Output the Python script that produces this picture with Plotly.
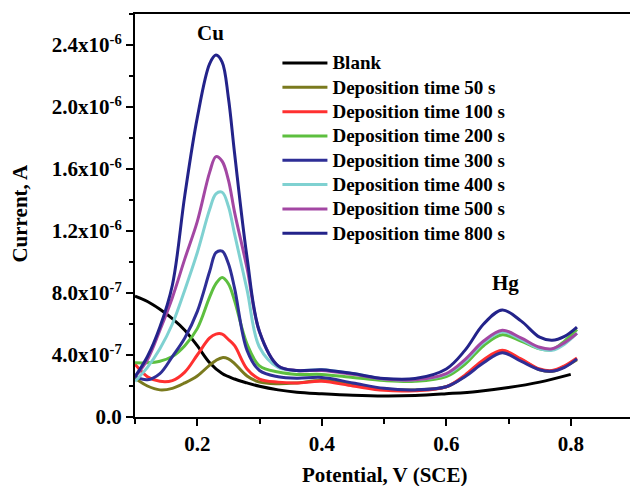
import plotly.graph_objects as go

# Potential grid (V vs SCE) for deposition-time curves
V = [0.10, 0.12, 0.14, 0.16, 0.18, 0.20, 0.22, 0.23, 0.24, 0.25, 0.26, 0.28, 0.30,
     0.33, 0.36, 0.40, 0.45, 0.50, 0.55, 0.60, 0.63, 0.66, 0.69, 0.72, 0.75, 0.77, 0.79, 0.81]

# Currents in units of 1e-7 A
dep_50 = [2.5, 2.0, 1.75, 1.85, 2.2, 2.65, 3.35, 3.65, 3.83, 3.75, 3.45, 2.65, 2.25,
          2.15, 2.2, 2.35, 2.1, 1.8, 1.75, 1.95, 2.65, 3.6, 4.2, 3.7, 3.05, 2.95, 3.25, 3.7]
dep_100 = [3.4, 2.6, 2.3, 2.35, 2.9, 4.0, 5.1, 5.35, 5.35, 5.0, 4.6, 3.1, 2.45,
           2.25, 2.2, 2.3, 2.0, 1.72, 1.7, 1.95, 2.7, 3.7, 4.3, 3.75, 3.1, 3.0, 3.3, 3.8]
dep_200 = [3.5, 3.5, 3.6, 3.9, 4.6, 5.7, 7.75, 8.6, 9.0, 8.6, 7.5, 4.7, 3.3,
           2.9, 2.75, 2.75, 2.55, 2.35, 2.3, 2.6, 3.4, 4.6, 5.3, 4.9, 4.4, 4.35, 4.9, 5.65]
dep_300 = [2.6, 2.4, 2.8, 3.9, 5.1, 6.8, 9.4, 10.6, 10.7, 9.9, 8.3, 4.3, 3.0,
           2.6, 2.5, 2.55, 2.2, 1.85, 1.75, 1.95, 2.6, 3.5, 4.15, 3.6, 3.05, 2.95, 3.2, 3.75]
dep_400 = [2.3, 3.2, 4.4, 6.0, 8.2, 10.6, 13.4, 14.4, 14.5, 13.6, 11.8, 8.2, 4.5,
           3.2, 3.0, 3.05, 2.8, 2.45, 2.4, 2.75, 3.6, 4.8, 5.5, 5.0, 4.4, 4.3, 4.7, 5.4]
dep_500 = [2.6, 3.7, 5.6, 7.7, 10.2, 12.6, 15.8, 16.8, 16.5, 15.3, 13.2, 9.6, 5.5,
           3.3, 3.0, 3.0, 2.75, 2.45, 2.4, 2.8, 3.7, 4.9, 5.6, 5.1, 4.5, 4.4, 4.8, 5.4]
dep_800 = [2.6, 3.9, 5.8, 8.5, 14.3, 19.3, 22.8, 23.35, 22.9, 20.6, 17.0, 10.3, 5.5,
           3.3, 3.0, 3.05, 2.8, 2.48, 2.48, 3.1, 4.3, 6.0, 6.9, 6.2, 5.15, 4.95, 5.2, 5.8]

V_blank = [0.10, 0.12, 0.14, 0.16, 0.18, 0.20, 0.22, 0.24, 0.26, 0.28, 0.30, 0.33,
           0.36, 0.40, 0.45, 0.50, 0.55, 0.60, 0.65, 0.70, 0.75, 0.80]
blank = [7.8, 7.45, 6.95, 6.35, 5.6, 4.6, 3.5, 2.8, 2.45, 2.2, 1.98, 1.75,
         1.6, 1.5, 1.4, 1.35, 1.38, 1.5, 1.65, 1.9, 2.25, 2.75]

names = ["Blank", "Deposition time 50 s", "Deposition time 100 s", "Deposition time 200 s",
         "Deposition time 300 s", "Deposition time 400 s", "Deposition time 500 s",
         "Deposition time 800 s"]
colors = ["#000000", "#7a7a1e", "#ff3030", "#5dbf3f", "#2e2e96", "#7fd1d1", "#a347a3", "#23238a"]

y_tickvals = [0, 4e-7, 8e-7, 1.2e-6, 1.6e-6, 2.0e-6, 2.4e-6]
y_ticktext = ["0.0", "4.0x10<sup>-7</sup>", "8.0x10<sup>-7</sup>", "1.2x10<sup>-6</sup>",
              "1.6x10<sup>-6</sup>", "2.0x10<sup>-6</sup>", "2.4x10<sup>-6</sup>"]
x_tickvals = [0.2, 0.4, 0.6, 0.8]
x_ticktext = ["0.2", "0.4", "0.6", "0.8"]

series = [(V_blank, blank), (V, dep_50), (V, dep_100), (V, dep_200), (V, dep_300),
          (V, dep_400), (V, dep_500), (V, dep_800)]

FONT = "Liberation Serif"
fig = go.Figure()
for (xs, ys), name, col in zip(series, names, colors):
    fig.add_trace(go.Scatter(
        x=xs, y=[v * 1e-7 for v in ys], mode="lines",
        name='<span style="font-size:19px">' + name + '</span>',
        line=dict(color=col, width=3, shape="spline", smoothing=1.0),
    ))

axis_common = dict(
    showline=True, linecolor="black", linewidth=2, mirror=True,
    ticks="outside", ticklen=7, tickwidth=2, tickcolor="black",
    showgrid=False, zeroline=False,
    tickfont=dict(family=FONT, size=21, color="black", weight="bold"),
)

fig.update_layout(
    width=628, height=478,
    margin=dict(l=127, r=1, t=6, b=69),
    paper_bgcolor="white", plot_bgcolor="white",
    showlegend=True,
    legend=dict(
        x=0.286, y=0.921, xanchor="left", yanchor="top",
        bgcolor="rgba(0,0,0,0)", borderwidth=0,
        font=dict(family=FONT, size=16.4, color="black", weight="bold"),
        itemwidth=45, tracegroupgap=0,
    ),
    xaxis=dict(range=[0.1, 0.9], tickmode="array", tickvals=x_tickvals, ticktext=x_ticktext,
               minor=dict(tickmode="array", tickvals=[0.1, 0.3, 0.5, 0.7, 0.9], ticks="outside",
                          ticklen=5, tickwidth=2, tickcolor="black"),
               **axis_common),
    yaxis=dict(range=[0, 2.6e-6], tickmode="array", tickvals=y_tickvals, ticktext=y_ticktext,
               ticklabelstandoff=0,
               minor=dict(tickmode="array", tickvals=[2e-7, 6e-7, 1.0e-6, 1.4e-6, 1.8e-6, 2.2e-6, 2.6e-6],
                          ticks="outside", ticklen=4, tickwidth=2, tickcolor="black"),
               **axis_common),
    annotations=[
        dict(text="Potential, V (SCE)", xref="paper", yref="paper", x=0.5, y=-0.143,
             xanchor="center", yanchor="middle", showarrow=False,
             font=dict(family=FONT, size=21, color="black", weight="bold")),
        dict(text="Current, A", xref="paper", yref="paper", x=-0.23, y=0.506,
             xanchor="center", yanchor="middle", showarrow=False, textangle=-90,
             font=dict(family=FONT, size=21, color="black", weight="bold")),
        dict(text="Cu", xref="x", yref="y", x=0.2213, y=2.477e-6, showarrow=False,
             xanchor="center", yanchor="middle",
             font=dict(family=FONT, size=21, color="black", weight="bold")),
        dict(text="Hg", xref="x", yref="y", x=0.6954, y=8.63e-7, showarrow=False,
             xanchor="center", yanchor="middle",
             font=dict(family=FONT, size=21, color="black", weight="bold")),
    ],
)

fig.write_html("out.html")
